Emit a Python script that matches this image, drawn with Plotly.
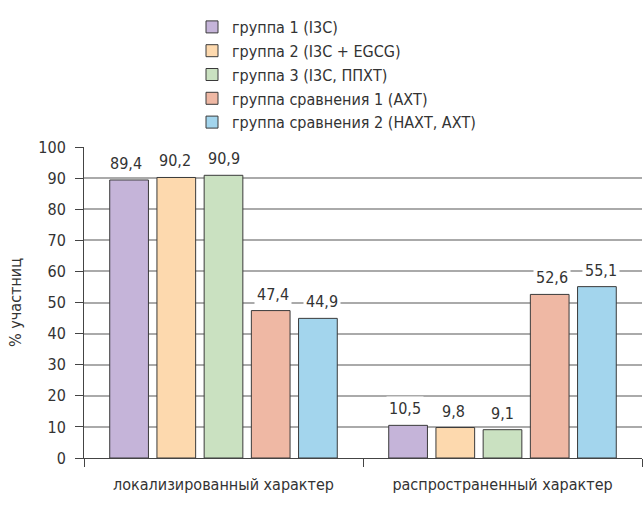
import plotly.graph_objects as go

categories = ["локализированный характер", "распространенный характер"]
series_names = [
    "группа 1 (I3C)",
    "группа 2 (I3C + EGCG)",
    "группа 3 (I3C, ППХТ)",
    "группа сравнения 1 (АХТ)",
    "группа сравнения 2 (НАХТ, АХТ)",
]
series_values = [
    [89.4, 10.5],
    [90.2, 9.8],
    [90.9, 9.1],
    [47.4, 52.6],
    [44.9, 55.1],
]
colors = ["#c5b4d9", "#fdd9ae", "#cae1c1", "#efb8a4", "#a3d5ed"]
y_ticks = list(range(0, 101, 10))

FONT = "DejaVu Sans Condensed, Roboto, sans-serif"
TEXT = "#333333"
FS = 16

fig = go.Figure()
for i, (name, vals) in enumerate(zip(series_names, series_values)):
    fig.add_trace(go.Bar(
        name=name, x=categories, y=vals,
        marker=dict(color=colors[i], line=dict(color="#3a3a3a", width=1)),
        legendgroup=f"g{i}",
    ))

# value labels with a white backing so they sit over gridlines
slot_px = 49
for i, vals in enumerate(series_values):
    for c, v in zip(categories, vals):
        fig.add_annotation(
            x=c, y=v, xref="x", yref="y",
            text=f"{v:.1f}".replace(".", ","),
            showarrow=False, yanchor="bottom", yshift=4,
            xshift=(i - 2) * slot_px,
            bgcolor="white", borderpad=2,
            font=dict(family=FONT, size=FS, color=TEXT),
        )

# panel letter, mostly cut off at the top edge
fig.add_annotation(
    x=0, y=1, xref="paper", yref="paper", xshift=-80, yshift=143,
    text="<b>б</b>", showarrow=False, xanchor="left", yanchor="bottom",
    font=dict(family=FONT, size=26, color="#7b3fa0"),
)

fig.update_layout(
    width=643, height=522,
    margin=dict(l=84, r=1, t=147, b=64),
    paper_bgcolor="white", plot_bgcolor="white",
    barmode="group", bargap=0.154, bargroupgap=0.18,
    font=dict(family=FONT, size=FS, color=TEXT),
    showlegend=True,
    legend=dict(
        x=(192 - 84) / 558, y=(458 - 10) / 311,
        xanchor="left", yanchor="top",
        orientation="v", tracegroupgap=0,
        font=dict(family=FONT, size=FS, color=TEXT),
        bgcolor="rgba(0,0,0,0)",
    ),
    xaxis=dict(
        showline=True, linecolor="#444", linewidth=1,
        ticks="outside", tickson="boundaries", ticklen=8, tickcolor="#444",
        ticklabelstandoff=12,
        showgrid=False, tickfont=dict(size=FS),
    ),
    yaxis=dict(
        range=[0, 100], tickvals=y_ticks,
        showline=True, linecolor="#444", linewidth=1,
        ticks="outside", ticklen=8, tickcolor="#444",
        ticklabelstandoff=6,
        showgrid=True, gridcolor="#aaaaaa", gridwidth=1.5,
        zeroline=False,
        title=dict(text="% участниц", font=dict(size=FS), standoff=12),
        tickfont=dict(size=FS),
    ),
)

fig.write_html("out.html")
